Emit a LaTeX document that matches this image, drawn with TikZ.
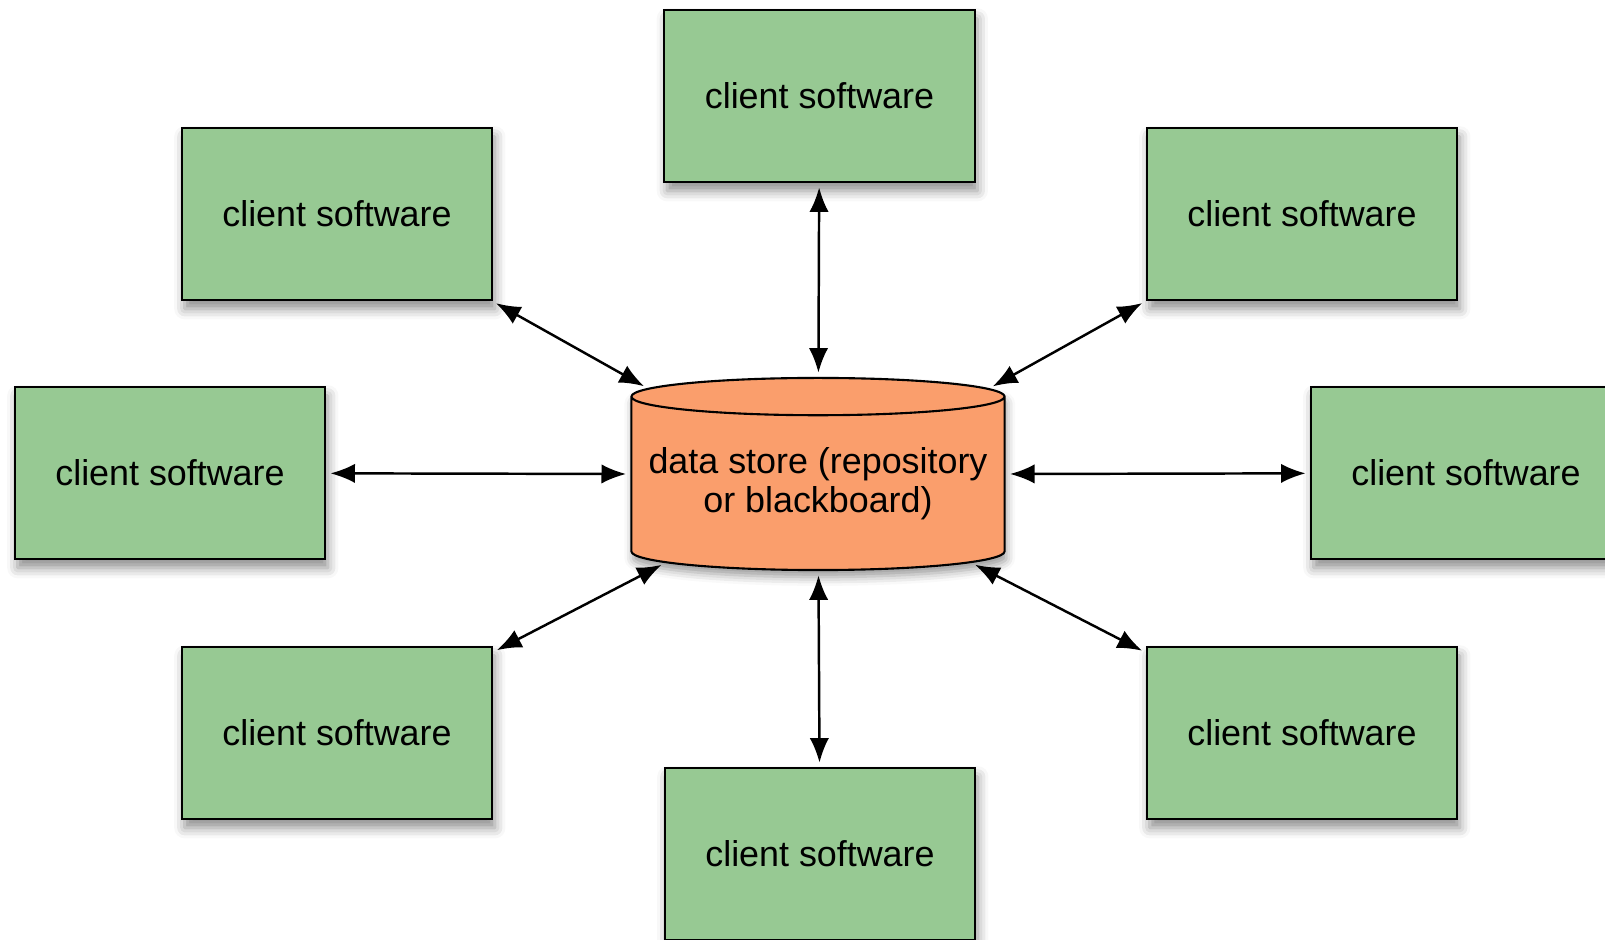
\documentclass[tikz,border=0pt]{standalone}
\usepackage{fontspec}
\setmainfont{Liberation Sans}
\usepackage{tikz}
\usetikzlibrary{arrows.meta,shapes.geometric,shadows.blur}

\definecolor{clientgreen}{RGB}{151,201,147}
\definecolor{storeorange}{RGB}{250,158,108}

\begin{document}
\begin{tikzpicture}[x=0.01cm,y=-0.01cm,
  every node/.style={font=\fontsize{10.2}{11.1}\selectfont},
  client/.style={draw=black,line width=0.6pt,fill=clientgreen,
    minimum width=3.1cm,minimum height=1.72cm,inner sep=0pt,
    blur shadow={shadow xshift=0.8pt,shadow yshift=-2.5pt,shadow blur radius=3pt,shadow opacity=45}},
  store/.style={cylinder,shape border rotate=90,aspect=0.11,draw=black,line width=0.6pt,
    fill=storeorange,minimum width=3.73cm,minimum height=1.92cm,inner sep=0pt,align=center,
    blur shadow={shadow xshift=0.5pt,shadow yshift=-2pt,shadow blur radius=2.5pt,shadow opacity=40}},
  link/.style={{Latex[length=7pt,width=5.5pt]}-{Latex[length=7pt,width=5.5pt]},
    line width=0.7pt,shorten >=1.2pt,shorten <=1.2pt}]
\clip (0,0) rectangle (1605,940);
\useasboundingbox (0,0) rectangle (1605,940);
\node[store,anchor=shape center] (ds) at (818,474) {data store (repository\\or blackboard)};
\node[client] (ctop) at (819.5,96) {client software};
\node[client] (ctl) at (337,214) {client software};
\node[client] (ctr) at (1302,214) {client software};
\node[client] (cl) at (170,473) {client software};
\node[client] (cr) at (1466,473) {client software};
\node[client] (cbl) at (337,733) {client software};
\node[client] (cbr) at (1302,733) {client software};
\node[client] (cbot) at (820,854) {client software};
\draw[link] (ds) -- (ctop);
\draw[link] (ds) -- (ctl);
\draw[link] (ds) -- (ctr);
\draw[link] (ds.west |- ds.shape center) -- (cl);
\draw[link] (ds.east |- ds.shape center) -- (cr);
\draw[link] (ds) -- (cbl);
\draw[link] (ds) -- (cbr);
\draw[link] (ds) -- (cbot);
\end{tikzpicture}
\end{document}
